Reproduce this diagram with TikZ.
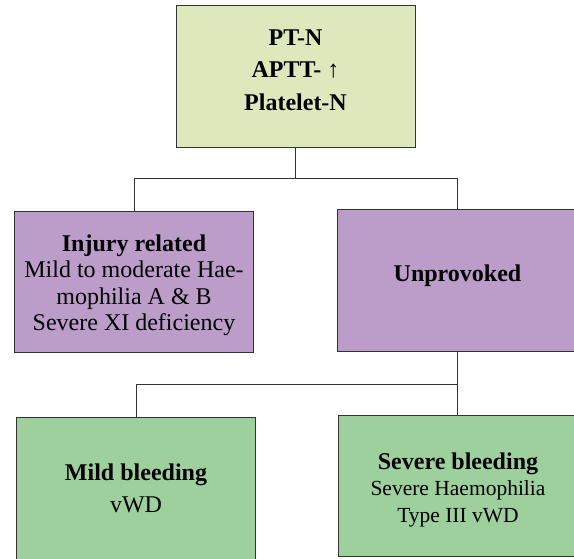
\documentclass[tikz,border=0pt]{standalone}
\usepackage{fontspec}
\setmainfont{Liberation Serif}
\usetikzlibrary{calc}

\definecolor{labgreen}{RGB}{221,232,189}
\definecolor{causepurple}{RGB}{188,156,201}
\definecolor{bleedgreen}{RGB}{157,208,156}
\definecolor{edgegray}{RGB}{50,50,50}
\newcommand{\narrowtext}{\fontsize{21.5}{26.5}\selectfont}

\begin{document}
\begin{tikzpicture}[x=1pt, y=-1pt,
  box/.style={draw=edgegray, line width=1pt, inner sep=0pt, align=center,
    font=\fontsize{24}{26.5}\selectfont},
  wide/.style={font=\fontsize{24}{32.5}\selectfont},
  link/.style={draw=edgegray, line width=1pt}]

\useasboundingbox (0,0) rectangle (574,558);

% 检验结果
\node[box, wide, fill=labgreen, minimum width=239, minimum height=142] (lab) at (295.5,76)
  {\textbf{PT-N}\\\textbf{APTT- ↑}\\\textbf{Platelet-N}\\[-20.5pt]};

% 出血原因
\node[box, fill=causepurple, minimum width=239, minimum height=141] (inj) at (134,281.5)
  {\textbf{Injury related}\\Mild to moderate Hae-\\mophilia A \& B\\Severe XI deficiency\\[-28.5pt]};
\node[box, fill=causepurple, minimum width=241, minimum height=142] (unp) at (457.5,280)
  {\textbf{Unprovoked}\\[-12.5pt]};

% 出血程度
\node[box, wide, fill=bleedgreen, minimum width=239, minimum height=143] (mild) at (136,488.5)
  {\textbf{Mild bleeding}\\vWD};
\node[box, fill=bleedgreen, minimum width=240, minimum height=141] (sev) at (458,486)
  {\textbf{Severe bleeding}\\\narrowtext Severe Haemophilia\\\narrowtext Type III vWD\\[-29.5pt]};

% 连线
\coordinate (split) at ($(lab.south)+(0,31)$);
\coordinate (fork) at ($(unp.south)+(0,33)$);
\draw[link] (lab.south) -- (split);
\draw[link] (inj.north) |- (split) -| (unp.north);
\draw[link] (unp.south) -- (unp.south |- sev.north);
\draw[link] (fork) -| (mild.north);

\end{tikzpicture}
\end{document}
